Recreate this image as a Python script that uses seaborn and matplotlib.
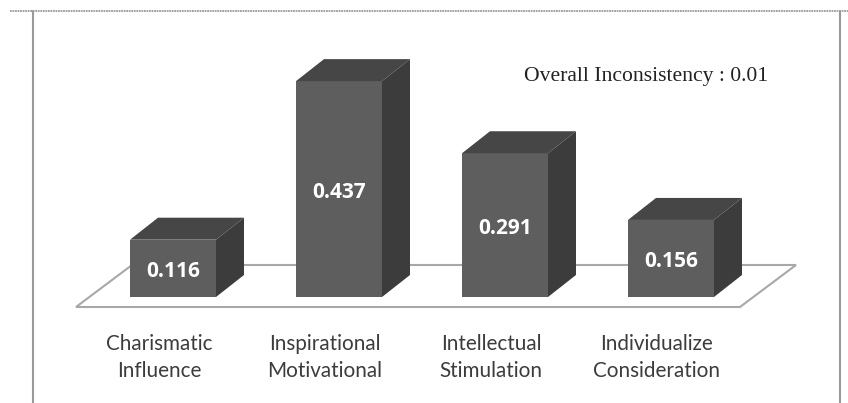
import pandas as pd
import seaborn as sns
import matplotlib.pyplot as plt
from matplotlib.lines import Line2D
from matplotlib.patches import Polygon
from matplotlib.transforms import ScaledTranslation

W, H = 848, 403
BASE, ESCALA = 297, 494

categorias = ["Charismatic\nInfluence", "Inspirational\nMotivational",
              "Intellectual\nStimulation", "Individualize\nConsideration"]
pesos = [0.116, 0.437, 0.291, 0.156]
rotulos = ["0.116", "0.437", "0.291", "0.156"]
nota = "Overall Inconsistency : 0.01"

sns.set_style("white")
plt.rcParams["font.family"] = ["Lato", "DejaVu Sans"]


def px(x, y):
    # pixel da imagem (origem em cima) para coordenadas da figura
    return x / W, 1 - y / H


fig = plt.figure(figsize=(W / 100, H / 100), dpi=100, facecolor="white")
ax = fig.add_axes([0, (H - BASE) / H, 1, BASE / H])
ax.patch.set_alpha(0)

df = pd.DataFrame({"categoria": categorias, "peso": pesos})
sns.barplot(data=df, x="categoria", y="peso", color="#5e5e5e", saturation=1,
            width=86 / 166, linewidth=0, ax=ax)

ax.set_xlim(-173 / 166, (W - 173) / 166)
ax.set_ylim(0, BASE / ESCALA)
ax.set_xlabel("")
ax.set_ylabel("")
ax.set_yticks([])
sns.despine(ax=ax, left=True, bottom=True)

# profundidade das barras
dx, dy = 28 / 166, 22 / ESCALA
for barra in list(ax.patches):
    x0, x1 = barra.get_x(), barra.get_x() + barra.get_width()
    topo = barra.get_height()
    ax.add_patch(Polygon([(x0, topo), (x1, topo), (x1 + dx, topo + dy), (x0 + dx, topo + dy)],
                         closed=True, fc="#464646", ec="none", zorder=1))
    ax.add_patch(Polygon([(x1, 0), (x1 + dx, dy), (x1 + dx, topo + dy), (x1, topo)],
                         closed=True, fc="#3c3c3c", ec="none", zorder=1))

# piso
piso = Polygon([px(76, 307), px(740, 307), px(796, 265), px(132, 265)], closed=True,
               transform=fig.transFigure, fc="white", ec="#a8a8a8", lw=1.5, clip_on=False, zorder=0)
ax.add_patch(piso)

textos = ax.bar_label(ax.containers[0], labels=rotulos, label_type="center", color="white",
                      fontsize=15, fontweight="bold", family=["Open Sans", "DejaVu Sans"])
for t in textos:
    t.xyann = (0, -2.5)

# rotulos do eixo ficam um pouco a esquerda das barras
ax.tick_params(axis="x", length=0, pad=26.5, labelsize=14.9, labelcolor="#3c3c3c")
for t in ax.get_xticklabels():
    t.set_linespacing(1.42)
    t.set_transform(t.get_transform() + ScaledTranslation(-14 / 100, 0, fig.dpi_scale_trans))

# moldura
cinza = "#9a9a9a"
fig.add_artist(Line2D(*zip(px(10, 11), px(848, 11)), color=cinza, lw=1.3, ls=(0, (1, 0.4))))
fig.add_artist(Line2D(*zip(px(33, 11), px(33, 403)), color=cinza, lw=1.5))
fig.add_artist(Line2D(*zip(px(840, 11), px(840, 403)), color=cinza, lw=1.5))

fx, fy = px(646, 77)
fig.text(fx, fy, nota, ha="center", va="center", fontsize=15.6, color="#222222",
         family=["Liberation Serif"])

fig.savefig("out.png", dpi=100)
